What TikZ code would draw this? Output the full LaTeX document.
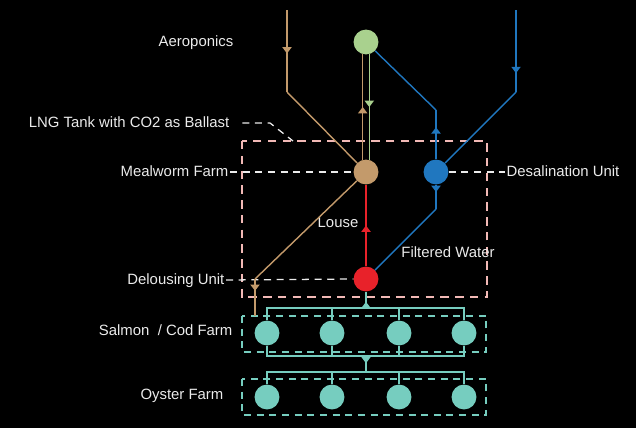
\documentclass[tikz,border=0pt]{standalone}
\usepackage{fontspec}
\setmainfont{Liberation Sans}
\usetikzlibrary{arrows.meta,decorations.markings}
\definecolor{aerog}{HTML}{A9D18E}
\definecolor{mealw}{HTML}{C39A6B}
\definecolor{desalb}{HTML}{2077BF}
\definecolor{lousered}{HTML}{E8222A}
\definecolor{fishc}{HTML}{76CDBF}
\definecolor{tankp}{HTML}{F2B9B6}
\tikzset{
  unit/.style={circle,minimum size=17.7pt,inner sep=0pt},
  lbl/.style={text=white!92!black,font=\fontsize{10.6}{12}\selectfont,inner sep=1pt,text height=1.45ex,text depth=0.3ex},
  guide/.style={white!92!black,line width=0.9pt,dash pattern=on 5pt off 4pt},
  pipe/.style={line width=1pt},
  flow/.style={line width=1pt,postaction={decorate},decoration={markings,mark=at position #1 with {\arrow{Triangle[width=6.5pt,length=4.5pt]}}}},
  flow/.default=0.5
}
\begin{document}
\begin{tikzpicture}[x=0.025cm,y=-0.025cm]
		\fill[black] (0,0) rectangle (636,428);
		\useasboundingbox (0,0) rectangle (636,428);

		\draw[tankp,line width=1.7pt,dash pattern=on 6pt off 4.5pt] (242,141) rectangle (487,297);
		\draw[fishc,line width=0.9pt,dash pattern=on 5pt off 4pt] (242,316) rectangle (486,352);
		\draw[fishc,line width=0.9pt,dash pattern=on 5pt off 4pt] (242,379) rectangle (486,415);

		\draw (366,42) node[unit,fill=aerog] (aero) {};
		\draw (366,172) node[unit,fill=mealw] (meal) {};
		\draw (436,172) node[unit,fill=desalb] (desal) {};
		\draw (366,279) node[unit,fill=lousered] (delouse) {};
		\draw (267,333) node[unit,fill=fishc] (salmA) {};
		\draw (332,333) node[unit,fill=fishc] (salmB) {};
		\draw (399,333) node[unit,fill=fishc] (salmC) {};
		\draw (464,333) node[unit,fill=fishc] (salmD) {};
		\draw (267,397) node[unit,fill=fishc] (oystA) {};
		\draw (332,397) node[unit,fill=fishc] (oystB) {};
		\draw (399,397) node[unit,fill=fishc] (oystC) {};
		\draw (464,397) node[unit,fill=fishc] (oystD) {};

		\draw (235,42) node[lbl,anchor=east] (aerolbl) {Aeroponics};
		\draw (231,123) node[lbl,anchor=east] (tanklbl) {LNG Tank with CO2 as Ballast};
		\draw (230,172) node[lbl,anchor=east] (meallbl) {Mealworm Farm};
		\draw (505,172) node[lbl,anchor=west] (desallbl) {Desalination Unit};
		\draw (226,280) node[lbl,anchor=east] (delouselbl) {Delousing Unit};
		\draw (234,331) node[lbl,anchor=east] (salmlbl) {Salmon~~/ Cod Farm};
		\draw (225,395) node[lbl,anchor=east] (oystlbl) {Oyster Farm};
		\draw (338,223) node[lbl] (louselbl) {Louse};
		\draw (448,253) node[lbl] (waterlbl) {Filtered Water};

		\coordinate (tankbend) at (270,123);
		\coordinate (tankcorner) at (293,141);
		\draw[guide] ([xshift=8pt]tanklbl.east) -- (tankbend) -- (tankcorner);
		\draw[guide] (meallbl.east) -- (meal.west);
		\draw[guide] (delouselbl.east) -- (delouse.west);
		\draw[guide] (desal.east) -- (desallbl.west);

		\coordinate (tanA) at (287,10);
		\coordinate (tanB) at (287,92);
		\coordinate (tanC) at (255,279);
		\coordinate (tanD) at (255,316);
		\draw[mealw,flow=0.53] (tanA) -- (tanB);
		\draw[mealw,pipe] (tanB) -- (meal);
		\draw[mealw,flow] (meal.105) -- (aero.255);
		\draw[aerog,flow] (aero.285) -- (meal.75);
		\draw[mealw,pipe] (meal) -- (tanC);
		\draw[mealw,flow=0.32] (tanC) -- (tanD);

		\coordinate (bluA) at (516,10);
		\coordinate (bluB) at (516,92);
		\coordinate (bluC) at (436,110);
		\coordinate (bluD) at (436,209);
		\draw[desalb,flow=0.77] (bluA) -- (bluB);
		\draw[desalb,pipe] (bluB) -- (desal);
		\draw[desalb,flow=0.65] (desal.north) -- (bluC);
		\draw[desalb,pipe] (bluC) -- (aero);
		\draw[desalb,flow=0.3] (desal.south) -- (bluD);
		\draw[desalb,pipe] (bluD) -- (delouse);

		\draw[lousered,flow] (delouse.north) -- (meal.south);

		\coordinate (sbusT) at (366,308);
		\coordinate (sbusB) at (366,356);
		\coordinate (obus) at (366,372);
		\draw[fishc,pipe] (salmA.north) -- (salmA.north |- sbusT) -- (salmD.north |- sbusT) -- (salmD.north);
		\draw[fishc,pipe] (salmB.north) -- (salmB.north |- sbusT);
		\draw[fishc,pipe] (salmC.north) -- (salmC.north |- sbusT);
		\draw[fishc,flow=0.38] (sbusT) -- (delouse.south);
		\draw[fishc,pipe] (salmA.south) -- (salmA.south |- sbusB) -- (salmD.south |- sbusB) -- (salmD.south);
		\draw[fishc,pipe] (salmB.south) -- (salmB.south |- sbusB);
		\draw[fishc,pipe] (salmC.south) -- (salmC.south |- sbusB);
		\draw[fishc,flow=0.45] (sbusB) -- (obus);
		\draw[fishc,pipe] (oystA.north) -- (oystA.north |- obus) -- (oystD.north |- obus) -- (oystD.north);
		\draw[fishc,pipe] (oystB.north) -- (oystB.north |- obus);
		\draw[fishc,pipe] (oystC.north) -- (oystC.north |- obus);
		\end{tikzpicture}
\end{document}
